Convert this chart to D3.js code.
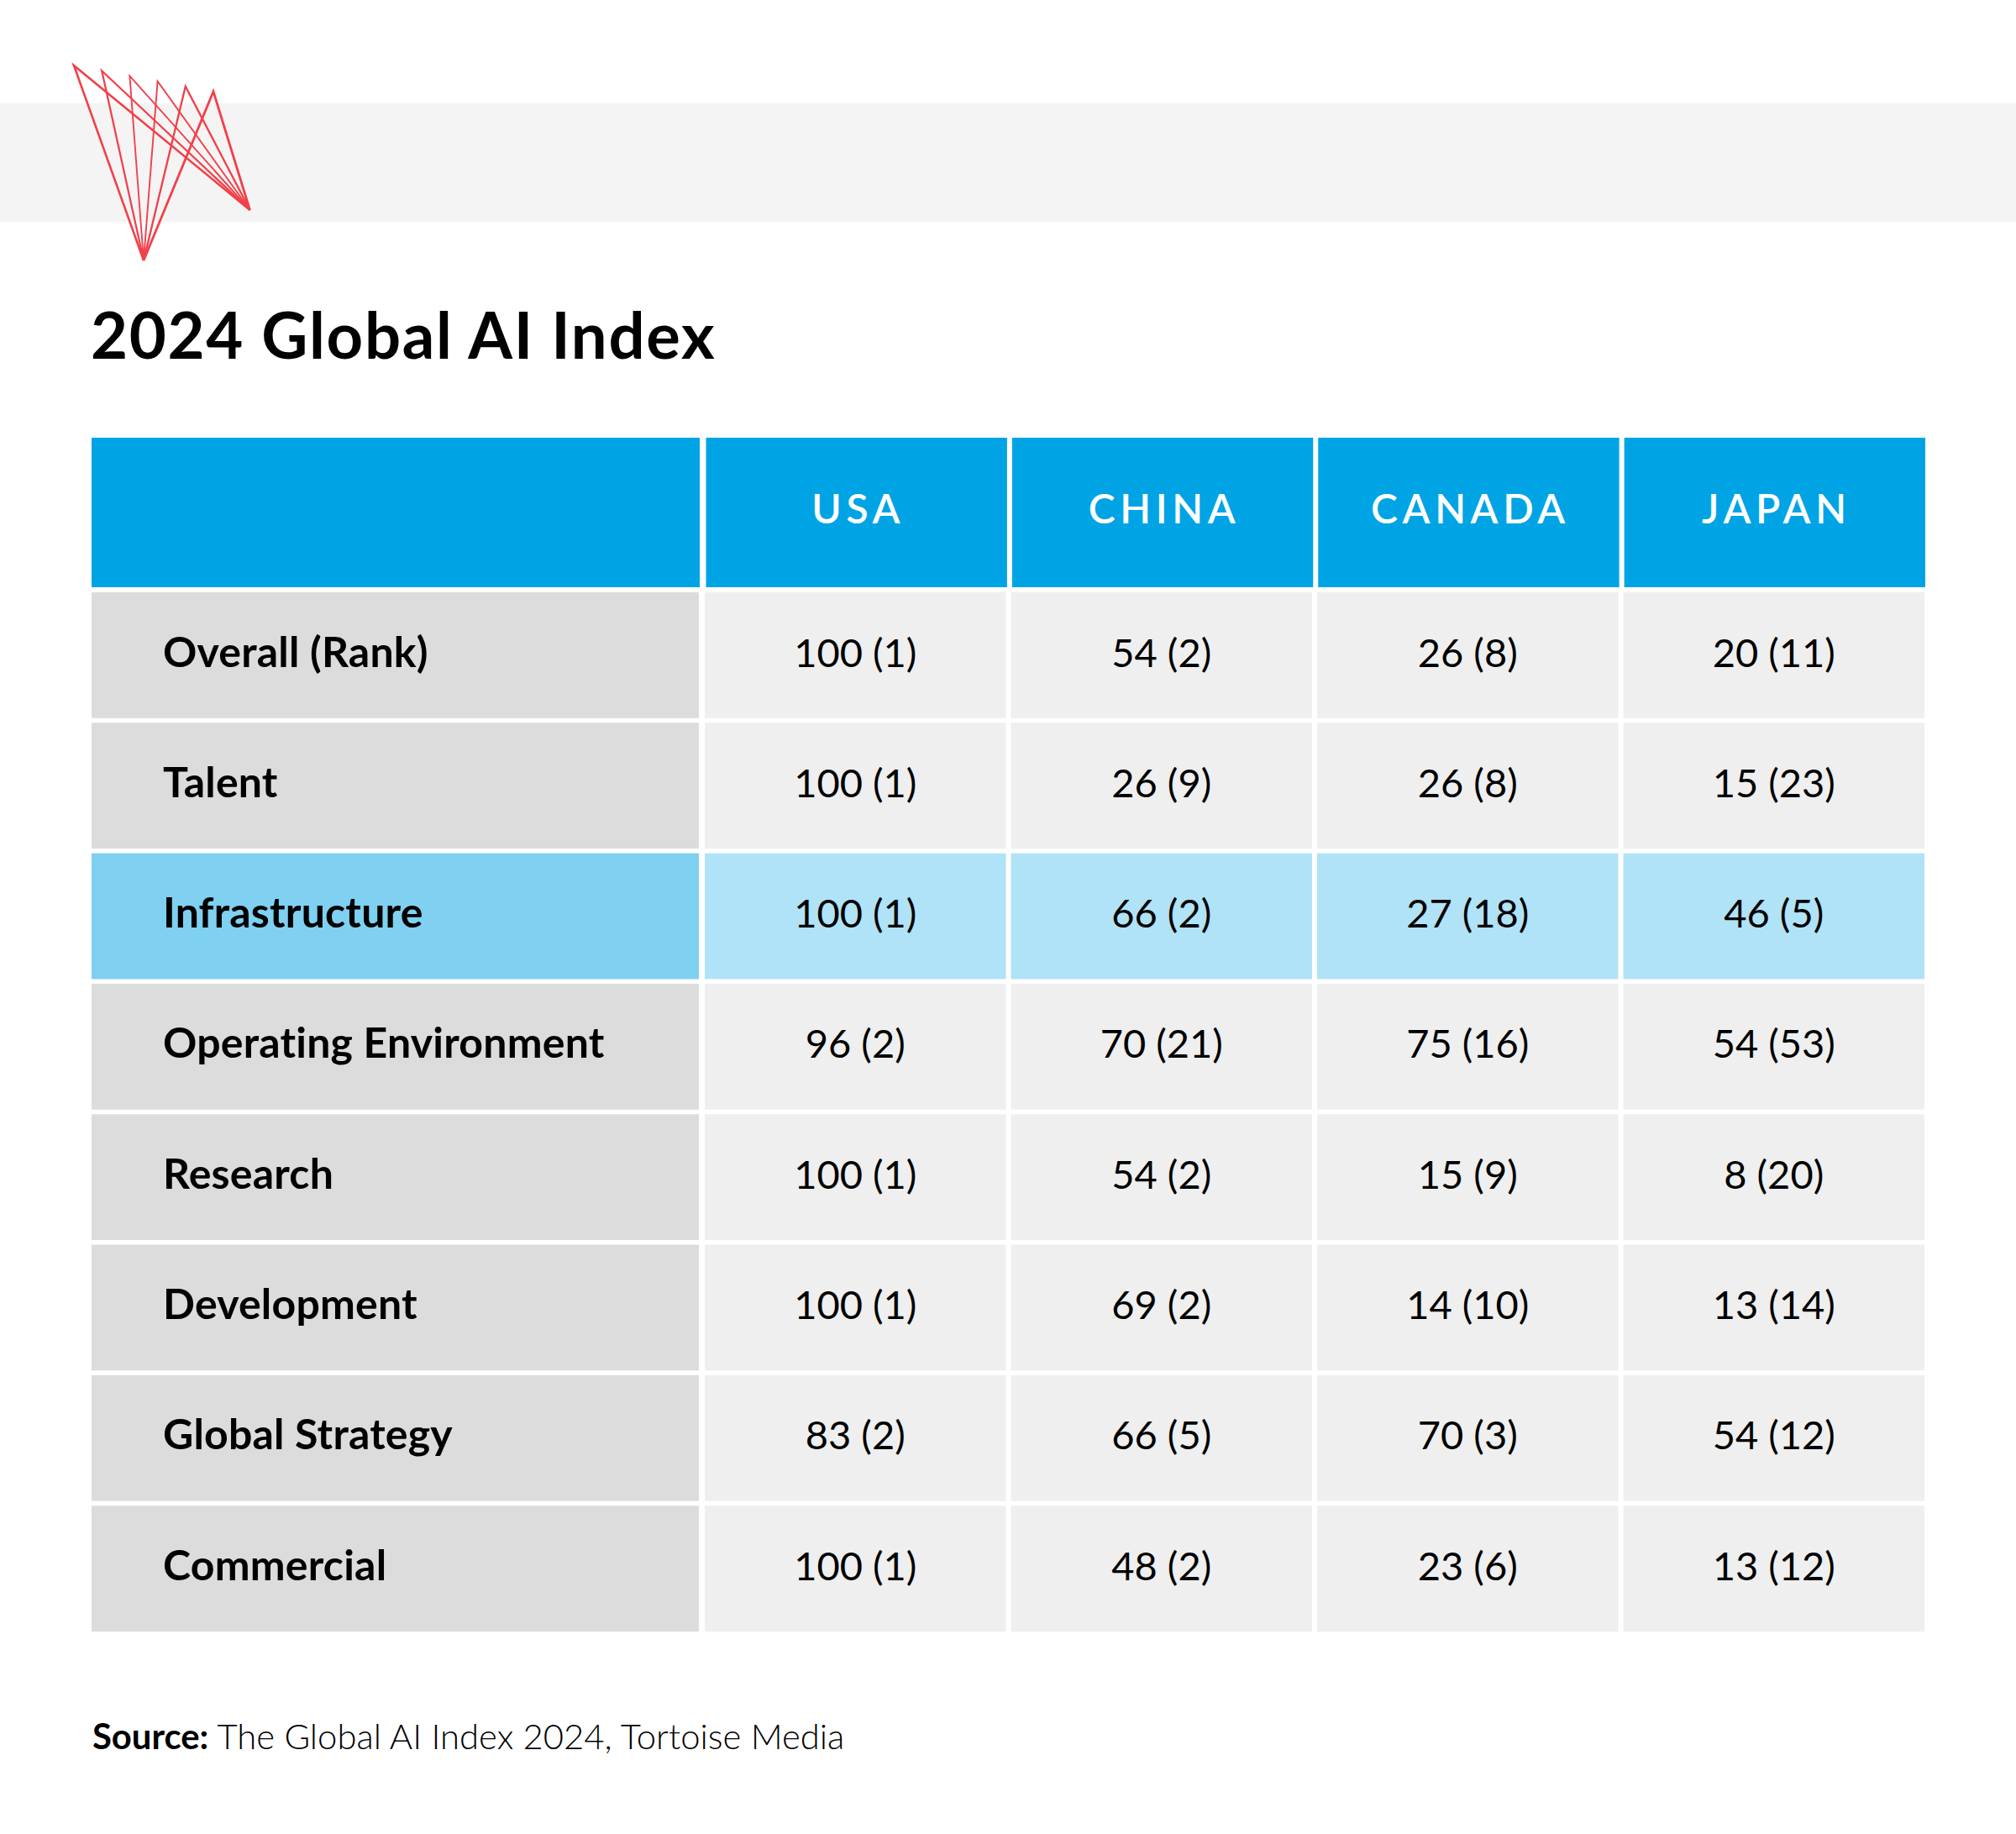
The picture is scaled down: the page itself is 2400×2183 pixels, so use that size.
<!DOCTYPE html>
<html>
<head>
<meta charset="utf-8">
<script src="https://cdn.jsdelivr.net/npm/d3@7"></script>
<style>
  html, body { margin: 0; padding: 0; background: #fff; }
  text { font-family: Lato, "Noto Sans", sans-serif; fill: #000; font-variant-ligatures: none; }
</style>
</head>
<body>
<div id="chart"></div>
<script>
const countries = ["USA", "CHINA", "CANADA", "JAPAN"];
const rowLabels = ["Overall (Rank)", "Talent", "Infrastructure", "Operating Environment", "Research", "Development", "Global Strategy", "Commercial"];
const usaValues = ["100 (1)", "100 (1)", "100 (1)", "96 (2)", "100 (1)", "100 (1)", "83 (2)", "100 (1)"];
const chinaValues = ["54 (2)", "26 (9)", "66 (2)", "70 (21)", "54 (2)", "69 (2)", "66 (5)", "48 (2)"];
const canadaValues = ["26 (8)", "26 (8)", "27 (18)", "75 (16)", "15 (9)", "14 (10)", "70 (3)", "23 (6)"];
const japanValues = ["20 (11)", "15 (23)", "46 (5)", "54 (53)", "8 (20)", "13 (14)", "54 (12)", "13 (12)"];
const highlightRow = "Infrastructure";

const width = 2400, height = 2183;
const svg = d3.select("#chart").append("svg").attr("width", width).attr("height", height);

// grey band behind the logo
svg.append("rect").attr("x", 0).attr("y", 123).attr("width", width).attr("height", 141).attr("fill", "#f4f4f4");

// logo, every top point goes to the bottom tip and on to the right tip
const logoX = d3.scaleLinear().domain([0, 5]).range([88, 254]);
const logoY = d3.scaleLinear().domain([0, 5]).range([78, 109]);
const logoStroke = d3.scaleLinear().domain([0, 2.5, 5]).range([2.6, 1.7, 2.8]);
svg.append("g").selectAll("path").data(d3.range(6)).join("path")
  .attr("d", i => d3.line()([[171, 310], [logoX(i), logoY(i)], [297.5, 250]]))
  .attr("fill", "none").attr("stroke", "#f2404a").attr("stroke-width", i => logoStroke(i));

svg.append("text").attr("x", 108).attr("y", 427).attr("font-size", 76).attr("font-weight", 700)
  .attr("letter-spacing", 1.7).text("2024 Global AI Index");

// table scales, the header sits a little to the right of the rows
const colGap = 6;
const x = d3.scaleBand().domain(countries).range([839, 2291]).paddingInner(colGap / 364).paddingOuter(0);
const xHead = d3.scaleBand().domain(countries).range([840.5, 2292]).paddingInner(colGap / 364).paddingOuter(0);
const y = d3.scaleBand().domain(rowLabels).range([705, 1942]).paddingInner(5.5 / 155).paddingOuter(0);

const labelX = 109, labelW = 723;
const valuesByCountry = [usaValues, chinaValues, canadaValues, japanValues];

// header
svg.append("rect").attr("x", labelX).attr("y", 521).attr("width", labelW + 1).attr("height", 178).attr("fill", "#00a4e4");
const header = svg.append("g").selectAll("g").data(countries).join("g");
header.append("rect").attr("x", d => xHead(d)).attr("y", 521).attr("width", xHead.bandwidth()).attr("height", 178).attr("fill", "#00a4e4");
header.append("text").attr("x", d => xHead(d) + xHead.bandwidth() / 2 + 2).attr("y", 622.5)
  .attr("text-anchor", "middle").attr("font-size", 48).attr("font-weight", 600).attr("letter-spacing", 5.6)
  .style("fill", "#fff").text(d => d);

// rows
const rows = svg.append("g").selectAll("g").data(rowLabels).join("g");
rows.append("rect").attr("x", labelX).attr("y", d => y(d)).attr("width", labelW).attr("height", y.bandwidth())
  .attr("fill", d => d === highlightRow ? "#7fd0f1" : "#dcdcdc");
rows.append("text").attr("x", 194).attr("y", d => y(d) + 88.5)
  .attr("font-size", 50).attr("font-weight", 700).attr("letter-spacing", 0.2).text(d => d);

rows.each(function (label, r) {
  const cells = d3.select(this).selectAll("g").data(countries).join("g");
  cells.append("rect").attr("x", d => x(d)).attr("y", y(label)).attr("width", x.bandwidth()).attr("height", y.bandwidth())
    .attr("fill", label === highlightRow ? "#b0e3f7" : "#efefef");
  cells.append("text").attr("x", d => x(d) + x.bandwidth() / 2).attr("y", y(label) + 88.5)
    .attr("text-anchor", "middle").attr("font-size", 47)
    .text((d, c) => valuesByCountry[c][r]);
});

// source line
const source = svg.append("text").attr("x", 110).attr("y", 2082).attr("font-size", 41.8);
source.append("tspan").attr("font-weight", 700).text("Source: ");
source.append("tspan").attr("font-weight", 300).text("The Global AI Index 2024, Tortoise Media");
</script>
</body>
</html>
